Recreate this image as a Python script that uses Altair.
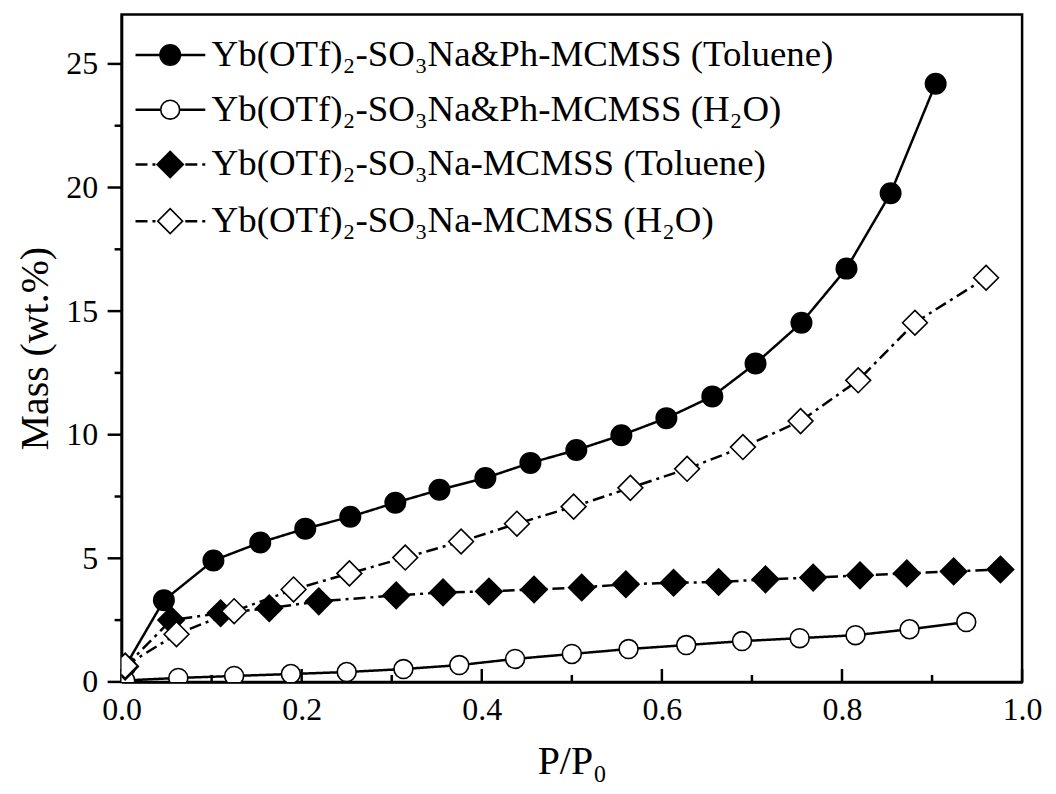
import altair as alt
import pandas as pd

# ---------------- data ----------------
x_ph_tol = [0.004, 0.047, 0.102, 0.154, 0.204, 0.254, 0.304, 0.353, 0.404, 0.454,
            0.505, 0.555, 0.605, 0.656, 0.704, 0.755, 0.805, 0.854, 0.904]
y_ph_tol = [0.62, 3.30, 4.91, 5.64, 6.20, 6.68, 7.25, 7.77, 8.25, 8.86,
            9.38, 9.98, 10.67, 11.55, 12.88, 14.53, 16.72, 19.77, 24.20]

x_ph_h2o = [0.004, 0.063, 0.125, 0.188, 0.250, 0.313, 0.375, 0.437, 0.500, 0.563,
            0.627, 0.689, 0.753, 0.815, 0.875, 0.938]
y_ph_h2o = [0.06, 0.16, 0.24, 0.32, 0.40, 0.52, 0.68, 0.93, 1.13, 1.33,
            1.49, 1.65, 1.77, 1.89, 2.13, 2.42]

x_na_tol = [0.004, 0.055, 0.110, 0.164, 0.219, 0.305, 0.357, 0.408, 0.458, 0.511,
            0.560, 0.613, 0.663, 0.715, 0.768, 0.820, 0.872, 0.924, 0.976]
y_na_tol = [0.62, 2.50, 2.78, 2.98, 3.26, 3.50, 3.62, 3.66, 3.74, 3.82,
            3.95, 4.01, 4.04, 4.15, 4.22, 4.31, 4.39, 4.47, 4.55]

x_na_h2o = [0.004, 0.061, 0.125, 0.191, 0.253, 0.315, 0.377, 0.439, 0.502, 0.565,
            0.628, 0.690, 0.754, 0.818, 0.881, 0.960]
y_na_h2o = [0.65, 1.93, 2.86, 3.74, 4.39, 5.03, 5.68, 6.40, 7.09, 7.85,
            8.62, 9.50, 10.55, 12.20, 14.53, 16.35]

labels = [
    "Yb(OTf)₂-SO₃Na&Ph-MCMSS (Toluene)",
    "Yb(OTf)₂-SO₃Na&Ph-MCMSS (H₂O)",
    "Yb(OTf)₂-SO₃Na-MCMSS (Toluene)",
    "Yb(OTf)₂-SO₃Na-MCMSS (H₂O)",
]

y_major = [0, 5, 10, 15, 20, 25]
y_minor = [2.5, 7.5, 12.5, 17.5, 22.5]
x_major = [0.0, 0.2, 0.4, 0.6, 0.8, 1.0]
x_minor = [0.1, 0.3, 0.5, 0.7, 0.9]

# ---------------- layout / style ----------------
W, H = 904, 670
FONT = "Liberation Serif"
xs = alt.Scale(domain=[0, 1], nice=False, zero=False)
ys = alt.Scale(domain=[0, 27], nice=False, zero=False)

X_AXIS = alt.Axis(values=x_major, format=".1f", ticks=False, grid=False,
                  labelPadding=13, titleBaseline="alphabetic", titleY=92,
                  titleFontSize=40, labelFlush=False)
Y_AXIS = alt.Axis(values=y_major, format="d", ticks=False, grid=False,
                  labelPadding=24, titleBaseline="alphabetic", titleX=-74,
                  titleY=H / 2, titleFontSize=40, labelFlush=False)
X_TITLE = "P/P₀"
Y_TITLE = "Mass (wt.%)"


def X(field):
    return alt.X(field, scale=xs, axis=X_AXIS, title=X_TITLE)


def Y(field):
    return alt.Y(field, scale=ys, axis=Y_AXIS, title=Y_TITLE)


leg_y = [25.36, 23.15, 20.93, 18.64]
leg_x0, leg_x1, leg_xm, leg_xt = 0.0155, 0.093, 0.054, 0.100

series = [
    dict(x=x_ph_tol, y=y_ph_tol, shape="circle", fill="black", size=420, dash=[1, 0]),
    dict(x=x_ph_h2o, y=y_ph_h2o, shape="circle", fill="white", size=360, dash=[1, 0]),
    dict(x=x_na_tol, y=y_na_tol, shape="diamond", fill="black", size=700, dash=[12, 5, 3, 5]),
    dict(x=x_na_h2o, y=y_na_h2o, shape="diamond", fill="white", size=620, dash=[12, 5, 3, 5]),
]

layers = []

# tick marks (y outward, x inward)
layers.append(alt.Chart(pd.DataFrame({"v": y_major})).mark_rule(color="black", strokeWidth=2.5)
              .encode(y=Y("v:Q"), x=alt.value(0), x2=alt.value(-14)))
layers.append(alt.Chart(pd.DataFrame({"v": y_minor})).mark_rule(color="black", strokeWidth=2.5)
              .encode(y=Y("v:Q"), x=alt.value(0), x2=alt.value(-7)))
layers.append(alt.Chart(pd.DataFrame({"v": x_major})).mark_rule(color="black", strokeWidth=2.5)
              .encode(x=X("v:Q"), y=alt.value(H), y2=alt.value(H - 13)))
layers.append(alt.Chart(pd.DataFrame({"v": x_minor})).mark_rule(color="black", strokeWidth=2.5)
              .encode(x=X("v:Q"), y=alt.value(H), y2=alt.value(H - 7)))

for i, s in enumerate(series):
    df = pd.DataFrame({"x": s["x"], "y": s["y"]})
    layers.append(
        alt.Chart(df).mark_line(color="black", strokeWidth=2.5, strokeDash=s["dash"], clip=True)
        .encode(x=X("x:Q"), y=Y("y:Q"))
    )
    layers.append(
        alt.Chart(df).mark_point(shape=s["shape"], filled=True, fill=s["fill"], stroke="black",
                                 strokeWidth=1.6, size=s["size"], opacity=1, clip=True)
        .encode(x=X("x:Q"), y=Y("y:Q"))
    )
    # legend entry
    ldf = pd.DataFrame({"x0": [leg_x0], "x1": [leg_x1], "xm": [leg_xm], "xt": [leg_xt],
                        "y": [leg_y[i]], "t": [labels[i]]})
    layers.append(
        alt.Chart(ldf).mark_rule(color="black", strokeWidth=2.5, strokeDash=s["dash"])
        .encode(x=X("x0:Q"), x2="x1:Q", y=Y("y:Q"))
    )
    layers.append(
        alt.Chart(ldf).mark_point(shape=s["shape"], filled=True, fill=s["fill"], stroke="black",
                                  strokeWidth=1.6, size=s["size"], opacity=1)
        .encode(x=X("xm:Q"), y=Y("y:Q"))
    )
    layers.append(
        alt.Chart(ldf).mark_text(align="left", baseline="middle", font=FONT, fontSize=37,
                                 color="black")
        .encode(x=X("xt:Q"), y=Y("y:Q"), text="t:N")
    )

chart = alt.layer(*layers).properties(
    width=W, height=H,
    autosize=alt.AutoSizeParams(type="none"),
    padding={"left": 114, "top": 5, "right": 26, "bottom": 105},
    background="white",
).configure_view(
    stroke="black", strokeWidth=2.5
).configure_axis(
    domainColor="black", domainWidth=2.5,
    labelFont=FONT, labelFontSize=32, labelColor="black",
    titleFont=FONT, titleColor="black", titleFontWeight="normal",
)

chart.save("out.html", embed_options={"renderer": "svg", "actions": False})
